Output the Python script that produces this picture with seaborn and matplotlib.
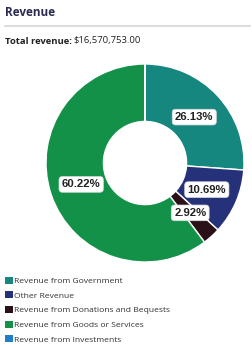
import matplotlib
matplotlib.use("Agg")
import matplotlib.pyplot as plt
import seaborn as sns
import numpy as np
from matplotlib.patches import Patch

categories = ["Revenue from Government", "Other Revenue",
              "Revenue from Donations and Bequests",
              "Revenue from Goods or Services", "Revenue from Investments"]
shares = [26.13, 10.69, 2.92, 60.22, 0.04]
colors = ["#15877f", "#25327a", "#2a1118", "#139149", "#1e7fc8"]
title = "Revenue"
total_label = "Total revenue:"
total_value = "$16,570,753.00"

sns.set_theme(style="white")
plt.rcParams["font.family"] = ["Open Sans", "DejaVu Sans"]

W, H = 252, 345
fig = plt.figure(figsize=(W / 100, H / 100), dpi=100)
fig.patch.set_facecolor("white")

cx, cy, R = 145, 163, 99
ax = fig.add_axes([(cx - R) / W, (H - cy - R) / H, 2 * R / W, 2 * R / H])
wedges, _ = ax.pie(shares, colors=colors, startangle=90, counterclock=False,
                   radius=1, wedgeprops=dict(width=0.58, edgecolor="white", linewidth=1.0))
ax.set_xlim(-1, 1)
ax.set_ylim(-1, 1)
ax.set_aspect("equal")
ax.axis("off")

for w, s in zip(wedges, shares):
    if s < 1:
        continue
    ang = np.deg2rad((w.theta1 + w.theta2) / 2)
    r = 0.68
    ax.text(r * np.cos(ang), r * np.sin(ang), f"{s:.2f}%", ha="center", va="center",
            fontsize=8.2, fontweight="bold", family=["Liberation Sans", "DejaVu Sans"],
            color="#222222",
            bbox=dict(boxstyle="round,pad=0.25,rounding_size=0.3", fc="white", ec="#dddddd", lw=0.5))

# header
fig.text(5 / W, 1 - 13 / H, title, fontsize=8.5, fontweight="bold", color="#2b2b52",
         va="center", ha="left")
fig.add_artist(plt.Line2D([5 / W, 250 / W], [1 - 26 / H, 1 - 26 / H], color="#dcdcdc", lw=1.5))
t = fig.text(5 / W, 1 - 41 / H, total_label, fontsize=6.8, fontweight="bold", color="#222222",
             va="center", ha="left")
fig.canvas.draw()
bb = t.get_window_extent()
fig.text((bb.x1 + 2) / W, 1 - 41 / H, total_value, fontsize=6.8, color="#222222",
         va="center", ha="left")

handles = [Patch(facecolor=c, edgecolor="none") for c in colors]
fig.legend(handles, categories, loc="upper left", bbox_to_anchor=(5 / W, 1 - 276.5 / H),
           frameon=False, fontsize=6.1, handlelength=0.9, handleheight=0.9,
           handletextpad=0.2, labelspacing=0.74, borderaxespad=0, borderpad=0,
           labelcolor="#333333")

fig.savefig("out.png", dpi=100, facecolor="white")
